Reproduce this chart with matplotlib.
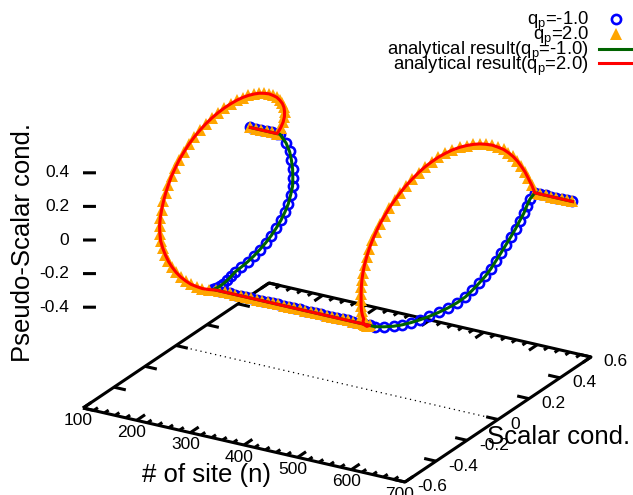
import matplotlib
matplotlib.use("Agg")
import matplotlib.pyplot as plt
from mpl_toolkits.mplot3d import proj3d

plt.rcParams["font.family"] = ["Liberation Sans", "DejaVu Sans"]
plt.rcParams["mathtext.fontset"] = "custom"
plt.rcParams["mathtext.rm"] = "Liberation Sans"
plt.rcParams["mathtext.it"] = "Liberation Sans:italic"

# --- data: site n, scalar cond. s, pseudo-scalar cond. z ---
# q_p = 2.0 (orange triangles / red line)
n_q2 = [100, 110, 120, 130, 140,
        150, 157, 163, 168, 172, 175.5, 178, 180, 181.5, 183,
        184, 185, 186, 187, 187.5, 188.3, 189, 189.5, 190, 190.5,
        191, 191.5, 192, 192.7, 193.5, 194.5, 195.5, 196.7, 198, 199.5,
        201, 202.3, 203.5, 204.7, 206, 208, 210, 213.5, 217, 220,
        223, 226, 229, 231.5, 234, 236.3, 238.5, 240.8, 243,
        250, 260, 270, 280, 290, 300, 310, 320, 330, 340, 350, 360, 370, 380,
        390, 400, 410, 420, 430, 440, 450, 460, 470, 480, 490, 500, 510, 520,
        530, 537, 545, 550, 556, 562, 570, 573, 576, 579,
        581.5, 583, 584, 584.5, 585, 585.3, 585.6, 585.8, 586, 586.2,
        586.4, 586.6, 586.8, 587, 587.2, 587.4, 587.6, 587.8, 588, 588.5,
        589, 590, 591, 592.5, 594, 595.5, 597, 598.5, 600, 602,
        604, 606, 608, 610.5, 613, 616.5, 620, 625, 630,
        640, 650, 660, 670, 680, 690, 700]
s_q2 = [0.480, 0.480, 0.480, 0.480, 0.480,
        0.480, 0.478, 0.473, 0.464, 0.451, 0.435, 0.416, 0.393, 0.368, 0.339,
        0.309, 0.275, 0.240, 0.203, 0.164, 0.124, 0.083, 0.042, 0.000, -0.042,
        -0.083, -0.124, -0.164, -0.203, -0.240, -0.275, -0.309, -0.339, -0.368, -0.393,
        -0.416, -0.435, -0.451, -0.464, -0.473, -0.478, -0.480, -0.478, -0.473, -0.464,
        -0.451, -0.435, -0.416, -0.393, -0.368, -0.339, -0.309, -0.275, -0.240,
        -0.240, -0.240, -0.240, -0.240, -0.240, -0.240, -0.240, -0.240, -0.240, -0.240,
        -0.240, -0.240, -0.240, -0.240, -0.240, -0.240, -0.240, -0.240, -0.240, -0.240,
        -0.240, -0.240, -0.240, -0.240, -0.240, -0.240, -0.240, -0.240,
        -0.240, -0.275, -0.309, -0.339, -0.368, -0.393, -0.416, -0.435, -0.451, -0.464,
        -0.473, -0.478, -0.480, -0.478, -0.473, -0.464, -0.451, -0.435, -0.416, -0.393,
        -0.368, -0.339, -0.309, -0.275, -0.240, -0.203, -0.164, -0.124, -0.083, -0.042,
        0.000, 0.042, 0.083, 0.124, 0.164, 0.203, 0.240, 0.275, 0.309, 0.339,
        0.368, 0.393, 0.416, 0.435, 0.451, 0.464, 0.473, 0.478, 0.480,
        0.480, 0.480, 0.480, 0.480, 0.480, 0.480, 0.480]
z_q2 = [0.000, 0.000, 0.000, 0.000, 0.000,
        0.000, 0.042, 0.083, 0.124, 0.164, 0.203, 0.240, 0.275, 0.309, 0.339,
        0.368, 0.393, 0.416, 0.435, 0.451, 0.464, 0.473, 0.478, 0.480, 0.478,
        0.473, 0.464, 0.451, 0.435, 0.416, 0.393, 0.368, 0.339, 0.309, 0.275,
        0.240, 0.203, 0.164, 0.124, 0.083, 0.042, 0.000, -0.042, -0.083, -0.124,
        -0.164, -0.203, -0.240, -0.275, -0.309, -0.339, -0.368, -0.393, -0.416,
        -0.416, -0.416, -0.416, -0.416, -0.416, -0.416, -0.416, -0.416, -0.416, -0.416,
        -0.416, -0.416, -0.416, -0.416, -0.416, -0.416, -0.416, -0.416, -0.416, -0.416,
        -0.416, -0.416, -0.416, -0.416, -0.416, -0.416, -0.416, -0.416,
        -0.416, -0.393, -0.368, -0.339, -0.309, -0.275, -0.240, -0.203, -0.164, -0.124,
        -0.083, -0.042, 0.000, 0.042, 0.083, 0.124, 0.164, 0.203, 0.240, 0.275,
        0.309, 0.339, 0.368, 0.393, 0.416, 0.435, 0.451, 0.464, 0.473, 0.478,
        0.480, 0.478, 0.473, 0.464, 0.451, 0.435, 0.416, 0.393, 0.368, 0.339,
        0.309, 0.275, 0.240, 0.203, 0.164, 0.124, 0.083, 0.042, 0.000,
        0.000, 0.000, 0.000, 0.000, 0.000, 0.000, 0.000]

# q_p = -1.0 (blue circles / green line)
n_qm1 = [100, 110, 120, 130, 140, 150,
         155, 167, 175, 181, 187, 192, 197, 200, 203, 205,
         206.3, 207.3, 208, 208.5, 208.8, 209.2, 209.5, 209.8, 210.5, 215,
         219.5, 224, 229, 233.5, 238,
         250, 260, 270, 280, 290, 300, 310, 320, 330, 340, 350, 360, 370, 380,
         390, 400, 410, 420, 430, 440, 450, 460, 470, 480, 490, 500, 510, 520, 530,
         540, 546.5, 553, 557.5, 562, 567, 572, 577.5, 583, 588,
         592, 593.5, 595, 597, 597.8, 598.5, 599.5, 601.5, 604, 607,
         610, 614, 617, 621.5, 630,
         640, 650, 660, 670, 680, 690, 700]
s_qm1 = [0.480, 0.480, 0.480, 0.480, 0.480, 0.480,
         0.480, 0.478, 0.473, 0.464, 0.451, 0.435, 0.416, 0.393, 0.368, 0.339,
         0.309, 0.275, 0.240, 0.203, 0.164, 0.124, 0.083, 0.042, 0.000, -0.042,
         -0.083, -0.124, -0.164, -0.203, -0.240,
         -0.240, -0.240, -0.240, -0.240, -0.240, -0.240, -0.240, -0.240, -0.240, -0.240,
         -0.240, -0.240, -0.240, -0.240, -0.240, -0.240, -0.240, -0.240, -0.240, -0.240,
         -0.240, -0.240, -0.240, -0.240, -0.240, -0.240, -0.240, -0.240, -0.240,
         -0.240, -0.203, -0.164, -0.124, -0.083, -0.042, 0.000, 0.042, 0.083, 0.124,
         0.164, 0.203, 0.240, 0.275, 0.309, 0.339, 0.368, 0.393, 0.416, 0.435,
         0.451, 0.464, 0.473, 0.478, 0.480,
         0.480, 0.480, 0.480, 0.480, 0.480, 0.480, 0.480]
z_qm1 = [0.000, 0.000, 0.000, 0.000, 0.000, 0.000,
         0.000, -0.042, -0.083, -0.124, -0.164, -0.203, -0.240, -0.275, -0.309, -0.339,
         -0.368, -0.393, -0.416, -0.435, -0.451, -0.464, -0.473, -0.478, -0.480, -0.478,
         -0.473, -0.464, -0.451, -0.435, -0.416,
         -0.416, -0.416, -0.416, -0.416, -0.416, -0.416, -0.416, -0.416, -0.416, -0.416,
         -0.416, -0.416, -0.416, -0.416, -0.416, -0.416, -0.416, -0.416, -0.416, -0.416,
         -0.416, -0.416, -0.416, -0.416, -0.416, -0.416, -0.416, -0.416, -0.416,
         -0.416, -0.435, -0.451, -0.464, -0.473, -0.478, -0.480, -0.478, -0.473, -0.464,
         -0.451, -0.435, -0.416, -0.393, -0.368, -0.339, -0.309, -0.275, -0.240, -0.203,
         -0.164, -0.124, -0.083, -0.042, 0.000,
         0.000, 0.000, 0.000, 0.000, 0.000, 0.000, 0.000]

n_ticks = [100, 200, 300, 400, 500, 600, 700]
n_tick_labels = ["100", "200", "300", "400", "500", "600", "700"]
s_ticks = [-0.6, -0.4, -0.2, 0.0, 0.2, 0.4, 0.6]
s_tick_labels = ["-0.6", "-0.4", "-0.2", "0", "0.2", "0.4", "0.6"]
z_ticks = [-0.4, -0.2, 0.0, 0.2, 0.4]
z_tick_labels = ["-0.4", "-0.2", "0", "0.2", "0.4"]

nlo, nhi = 100, 700
slo, shi = -0.6, 0.6
z0, ztop = -1.0, 0.6   # gnuplot puts the base plane below zmin

fig = plt.figure(figsize=(6.33, 4.95), dpi=100)
ax = fig.add_axes([0, 0, 1, 1], projection="3d", proj_type="ortho",
                  computed_zorder=False)
ax.view_init(elev=23.14, azim=-59.68)
ax.set_xlim(nlo, nhi)
ax.set_ylim(slo, shi)
ax.set_zlim(z0, ztop)
ax.set_xticks([])
ax.set_yticks([])
ax.set_zticks([])
ax.set_box_aspect((373.0, 368.5, (ztop - z0) * 182.7))
ax.set_axis_off()

# base box
kw = dict(color="black", lw=2.2, zorder=1, solid_capstyle="butt")
ax.plot([nlo, nhi, nhi, nlo, nlo], [slo, slo, shi, shi, slo], [z0] * 5, **kw)

# x (site) tics, mirrored on the back edge
for v in range(nlo, nhi + 1, 20):
    ln = 0.054 if v % 100 == 0 else 0.027
    ax.plot([v, v], [slo, slo + ln], [z0, z0], **kw)
    ax.plot([v, v], [shi, shi - ln], [z0, z0], **kw)

# y (scalar) tics, mirrored on the left edge
for v in s_ticks:
    ax.plot([nhi, nhi - 22], [v, v], [z0, z0], **kw)
    ax.plot([nlo, nlo + 22], [v, v], [z0, z0], **kw)

# z tics (no axis line)
for v in z_ticks:
    ax.plot([nlo, nlo + 18], [slo, slo + 0.0213], [v, v], **kw)

# zero axis on the base
ax.plot([nlo, nhi], [0, 0], [z0, z0], color="black", lw=0.9,
        linestyle=(0, (1, 3)), zorder=1)

# data
ax.plot(n_qm1, s_qm1, z_qm1, linestyle="none", marker="o", ms=6.6, mew=1.9,
        mfc="none", mec="#0000ff", zorder=3, label=r"q$_{\mathrm{p}}$=-1.0")
ax.plot(n_q2, s_q2, z_q2, linestyle="none", marker="^", ms=8.5, mew=0,
        mfc="#ffa500", zorder=4, label=r"q$_{\mathrm{p}}$=2.0")
ax.plot(n_qm1, s_qm1, z_qm1, color="#006400", lw=2.2, zorder=5,
        label=r"analytical result(q$_{\mathrm{p}}$=-1.0)")
ax.plot(n_q2, s_q2, z_q2, color="#ff0000", lw=2.2, zorder=6,
        label=r"analytical result(q$_{\mathrm{p}}$=2.0)")

# axis titles
fig.text(23 / 633, 1 - 242 / 495, "Pseudo-Scalar cond.", rotation=90,
         ha="center", va="center", fontsize=18.5)
fig.text(206 / 633, 1 - 475 / 495, "# of site (n)", ha="center", va="center",
         fontsize=18.5)
fig.text(487 / 633, 1 - 437 / 495, "Scalar cond.", ha="left", va="center",
         fontsize=18.5)

fig.legend(loc="upper right", bbox_to_anchor=(634 / 633, 1 - 10 / 495),
           frameon=False, markerfirst=False, fontsize=13.3, handlelength=1.9,
           handletextpad=0.55, labelspacing=-0.45, borderaxespad=0, borderpad=0)

# place the 3D box so that its base corners land where gnuplot drew them
fig.canvas.draw()


def axes_frac(x, y, z):
    xs, ys, _ = proj3d.proj_transform(x, y, z, ax.M)
    disp = ax.transData.transform((xs, ys))
    return ax.transAxes.inverted().transform(disp)


fa = axes_frac(nlo, slo, z0)
fc = axes_frac(nhi, shi, z0)
W = (591 - 83) / (fc[0] - fa[0])
left = 83 - W * fa[0]
bottom = (495 - 408) - W * fa[1]
ax.set_position([left / 633, bottom / 495, W / 633, W / 495])
fig.canvas.draw()


def fig_pos(x, y, z):
    xs, ys, _ = proj3d.proj_transform(x, y, z, ax.M)
    disp = ax.transData.transform((xs, ys))
    return fig.transFigure.inverted().transform(disp)


# tick labels, anchored next to their tics on the projected base
for v, lab in zip(n_ticks, n_tick_labels):
    fx, fy = fig_pos(v, slo - 0.032, z0 - 0.052)
    fig.text(fx, fy, lab, ha="center", va="center", fontsize=12.5)
for v, lab in zip(s_ticks, s_tick_labels):
    fx, fy = fig_pos(nhi + 22.4, v, z0 - 0.013)
    fig.text(fx, fy, lab, ha="left", va="center", fontsize=12.5)
for v, lab in zip(z_ticks, z_tick_labels):
    fx, fy = fig_pos(nlo - 19.4, slo - 0.023, v)
    fig.text(fx, fy, lab, ha="right", va="center", fontsize=12.5)

fig.savefig("out.png", dpi=100)
